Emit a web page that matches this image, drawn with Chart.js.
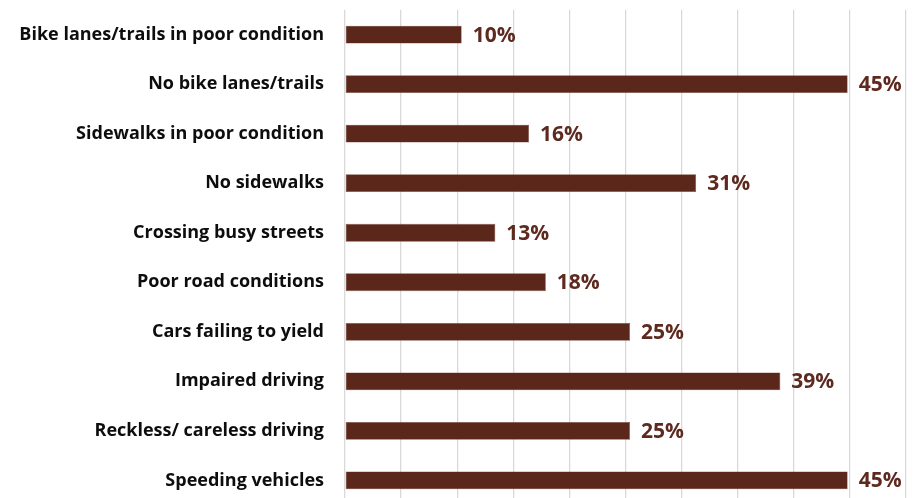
<!DOCTYPE html>
<html>
<head>
<meta charset="utf-8">
<script src="https://cdn.jsdelivr.net/npm/chart.js@4"></script>
<style>
  html, body { margin: 0; padding: 0; background: #ffffff; overflow: hidden; }
  #wrap { position: relative; top: -1px; width: 914px; height: 517px; }
</style>
</head>
<body>
<div id="wrap"><canvas id="c"></canvas></div>
<script>
const categories = [
  "Bike lanes/trails in poor condition",
  "No bike lanes/trails",
  "Sidewalks in poor condition",
  "No sidewalks",
  "Crossing busy streets",
  "Poor road conditions",
  "Cars failing to yield",
  "Impaired driving",
  "Reckless/ careless driving",
  "Speeding vehicles"
];
const values = [10.4, 44.8, 16.4, 31.3, 13.4, 17.9, 25.4, 38.8, 25.4, 44.8];
const valueLabels = ["10%", "45%", "16%", "31%", "13%", "18%", "25%", "39%", "25%", "45%"];

const barColor = "#5b271a";
const labelColor = "#5e2a1f";

const valueLabelPlugin = {
  id: "valueLabels",
  afterDatasetsDraw(chart) {
    const ctx = chart.ctx;
    const meta = chart.getDatasetMeta(0);
    ctx.save();
    ctx.font = "bold 21px 'Open Sans'";
    ctx.fillStyle = labelColor;
    ctx.textAlign = "left";
    ctx.textBaseline = "middle";
    meta.data.forEach((bar, i) => {
      ctx.fillText(valueLabels[i], bar.x + 11, bar.y + 1);
    });
    ctx.restore();
  }
};

new Chart(document.getElementById("c"), {
  type: "bar",
  data: {
    labels: categories,
    datasets: [{
      data: values,
      backgroundColor: barColor,
      borderColor: "#7d4a3e",
      borderWidth: 0.6,
      borderSkipped: false,
      barPercentage: 0.9,
      categoryPercentage: 0.4
    }]
  },
  options: {
    indexAxis: "y",
    responsive: true,
    maintainAspectRatio: false,
    animation: false,
    layout: { padding: { top: 8, bottom: 7, right: 8, left: 0 } },
    plugins: { legend: { display: false }, tooltip: { enabled: false } },
    scales: {
      x: {
        min: 0,
        max: 50,
        ticks: { display: false, stepSize: 5 },
        grid: { color: "#d9d9d9", lineWidth: 1.3, drawTicks: false },
        border: { display: false }
      },
      y: {
        afterFit(scale) { scale.width = 345; },
        ticks: {
          color: "#0d0d0d",
          font: { family: "Open Sans", weight: "bold", size: 18 },
          padding: 0
        },
        grid: { display: true, color: "rgba(0,0,0,0)", drawTicks: true, tickLength: 21, tickColor: "rgba(0,0,0,0)" },
        border: { display: false }
      }
    }
  },
  plugins: [valueLabelPlugin]
});
</script>
</body>
</html>
